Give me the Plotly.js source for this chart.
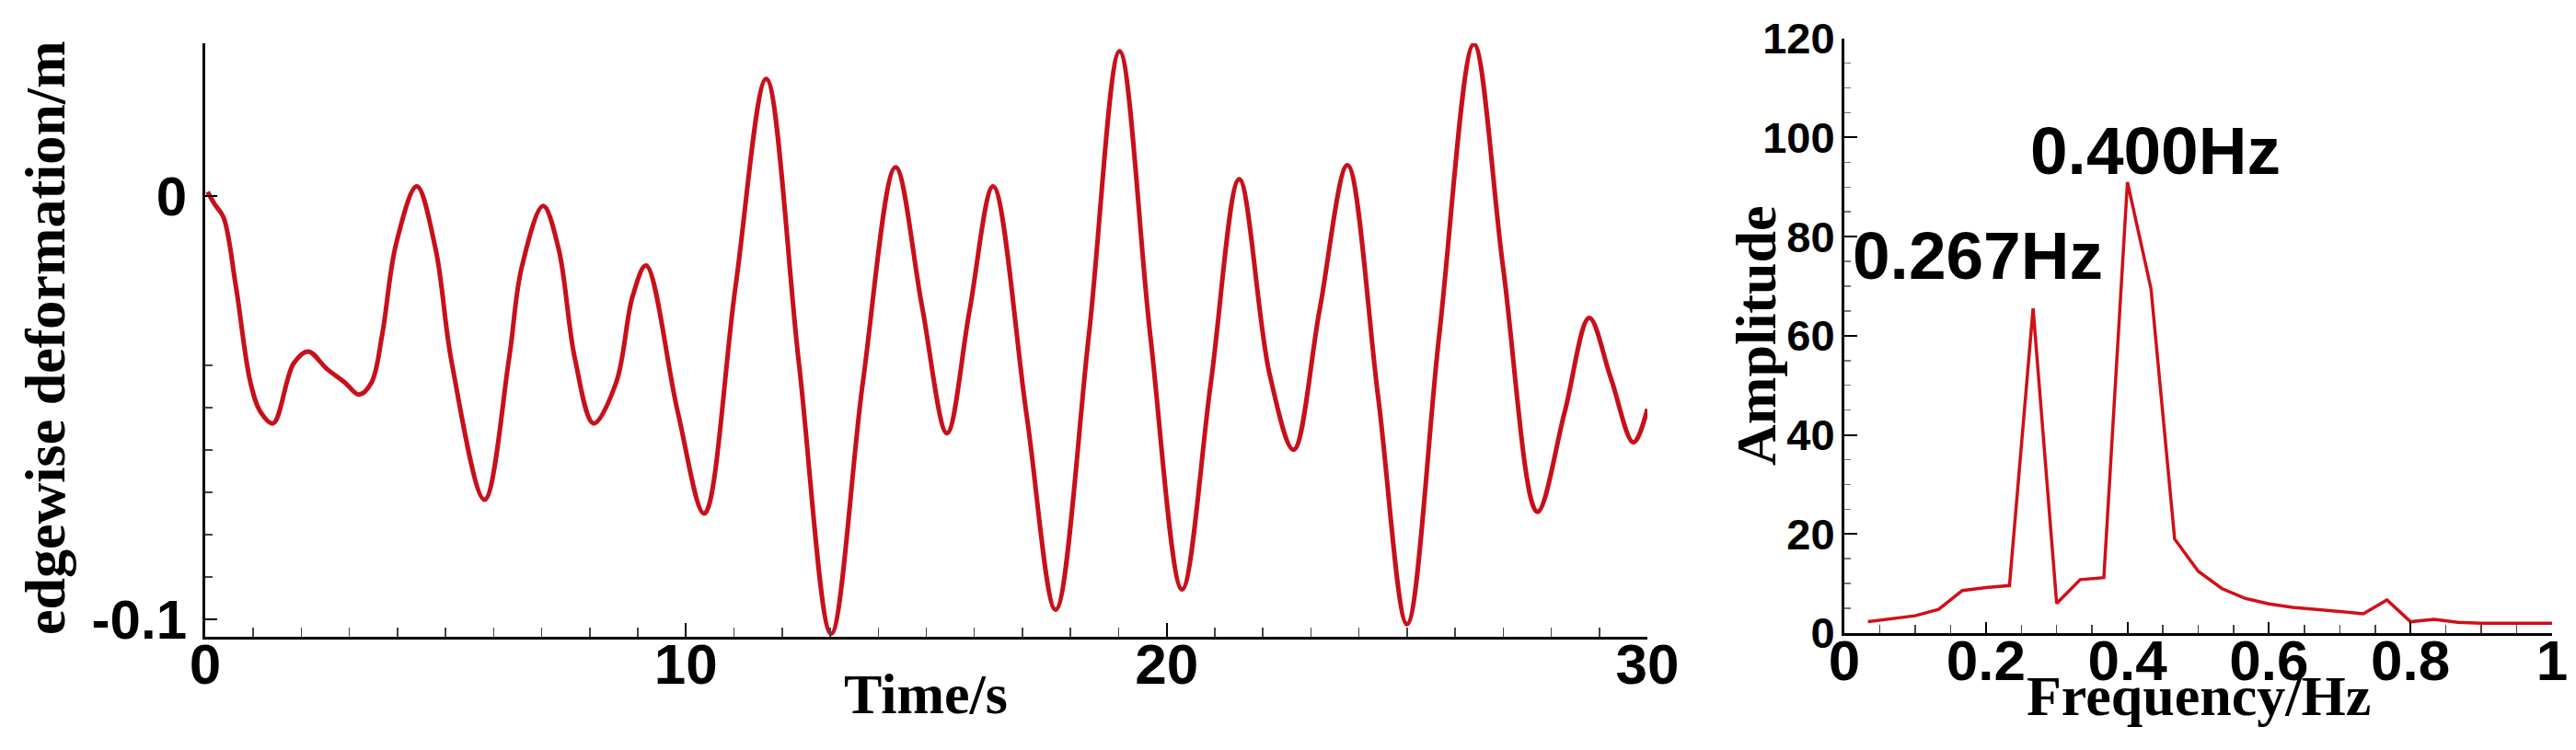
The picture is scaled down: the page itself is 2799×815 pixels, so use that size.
<!DOCTYPE html>
<html>
<head>
<meta charset="utf-8">
<script src="https://cdn.plot.ly/plotly-3.0.1.min.js"></script>
<style>html,body{margin:0;padding:0;background:#fff;}#chart{width:2799px;height:815px;}</style>
</head>
<body>
<div id="chart"></div>
<script>
// ---- Data: edgewise deformation time history ----
const time = [0.05, 0.2, 0.38, 0.64, 0.94, 1.15, 1.41, 1.84, 2.14, 2.52, 2.9, 3.2, 3.46, 3.68, 3.97, 4.4, 4.79, 5.13, 5.81, 6.32, 6.58, 7.03, 7.35, 7.69, 8.08, 8.55, 8.89, 9.17, 9.83, 10.38, 11.03, 11.67, 12.35, 13.02, 13.68, 14.36, 14.91, 15.43, 15.9, 16.39, 17.09, 17.69, 18.38, 19.02, 19.66, 20.32, 20.92, 21.51, 22.14, 22.64, 23.18, 23.76, 24.4, 25.0, 25.67, 26.39, 27.0, 27.71, 28.28, 28.79, 29.24, 29.71, 30.0];
const deformation = [0.001, -0.002, -0.005, -0.0215, -0.044, -0.051, -0.0537, -0.0395, -0.0367, -0.0407, -0.044, -0.0469, -0.044, -0.0328, -0.0113, 0.0023, -0.0124, -0.0395, -0.0717, -0.0384, -0.017, -0.0023, -0.0124, -0.0384, -0.0537, -0.044, -0.0237, -0.0164, -0.051, -0.075, -0.0215, 0.0277, -0.0395, -0.1034, -0.044, 0.0068, -0.026, -0.056, -0.027, 0.0023, -0.052, -0.0977, -0.033, 0.0342, -0.033, -0.0929, -0.044, 0.004, -0.042, -0.0599, -0.027, 0.0073, -0.0475, -0.1011, -0.0328, 0.0359, -0.017, -0.0746, -0.051, -0.0288, -0.043, -0.0582, -0.0503];

// ---- Data: amplitude spectrum ----
const freq = [0.0333, 0.0667, 0.1, 0.1333, 0.1667, 0.2, 0.2333, 0.2667, 0.3, 0.3333, 0.3667, 0.4, 0.4333, 0.4667, 0.5, 0.5333, 0.5667, 0.6, 0.6333, 0.6667, 0.7, 0.7333, 0.7667, 0.8, 0.8333, 0.8667, 0.9, 0.9333, 0.9667, 1.0];
const amplitude = [2.3, 2.9, 3.5, 4.8, 8.6, 9.2, 9.6, 65.5, 6.0, 10.8, 11.2, 91.0, 69.5, 19.0, 12.5, 9.0, 7.0, 5.9, 5.2, 4.8, 4.3, 3.9, 6.7, 2.3, 2.8, 2.2, 2.0, 2.0, 2.0, 2.0];

// ---- Tick values / labels ----
const timeTicks = [0, 10, 20, 30];
const timeTickText = ['0', '10', '20', '30'];
const defTicks = [-0.1, 0];
const defTickText = ['-0.1', '0'];
const defMinorTicks = [-0.09, -0.08, -0.07, -0.06, -0.05, -0.04];
const freqTicks = [0, 0.2, 0.4, 0.6, 0.8, 1];
const freqTickText = ['0', '0.2', '0.4', '0.6', '0.8', '1'];
const ampTicks = [0, 20, 40, 60, 80, 100, 120];
const ampTickText = ['0', '20', '40', '60', '80', '100', '120'];

// ---- Peak labels ----
const peakLabels = ['0.267Hz', '0.400Hz'];
const peakLabelX = [0.188, 0.4395];
const peakLabelY = [76.2, 97.4];

const W = 2799, H = 815;
const px = v => v / W;
const py = v => (H - v) / H;

const sans = 'Liberation Sans, Arial, sans-serif';
const serif = 'Liberation Serif, Times New Roman, serif';

const traces = [
  {x: time, y: deformation, type: 'scatter', mode: 'lines', xaxis: 'x', yaxis: 'y',
   line: {color: '#c8101a', width: 5, shape: 'spline', smoothing: 1}, hoverinfo: 'skip'},
  {x: freq, y: amplitude, type: 'scatter', mode: 'lines', xaxis: 'x2', yaxis: 'y2',
   line: {color: '#d01018', width: 3.5}, hoverinfo: 'skip'}
];

const axBase = {
  showline: true, linecolor: '#000', linewidth: 3, mirror: false,
  showgrid: false, zeroline: false, ticks: 'inside', tickcolor: '#000',
  automargin: false, fixedrange: true
};

const layout = {
  width: W, height: H,
  margin: {l: 0, r: 0, t: 0, b: 0, pad: 0},
  paper_bgcolor: '#fff', plot_bgcolor: '#fff',
  showlegend: false,
  xaxis: Object.assign({}, axBase, {
    domain: [px(223), px(1790)], range: [0, 30], anchor: 'y',
    tickmode: 'array', tickvals: timeTicks, ticktext: timeTickText,
    ticklen: 15, tickwidth: 2, ticklabelstandoff: -26,
    minor: {dtick: 1, tick0: 0, ticks: 'inside', ticklen: 10, tickwidth: 1.5, tickcolor: '#444'},
    tickfont: {family: sans, size: 62, color: '#000', weight: 'bold'}
  }),
  yaxis: Object.assign({}, axBase, {
    domain: [py(692), py(47)], range: [-0.1041, 0.0361], anchor: 'x',
    tickmode: 'array', tickvals: defTicks, ticktext: defTickText,
    ticklen: 13, tickwidth: 2, ticklabelstandoff: 5,
    minor: {tickmode: 'array', tickvals: defMinorTicks, ticks: 'inside', ticklen: 8, tickwidth: 1.5, tickcolor: '#444'},
    tickfont: {family: sans, size: 60, color: '#000', weight: 'bold'}
  }),
  xaxis2: Object.assign({}, axBase, {
    domain: [px(2004), px(2773)], range: [0, 1], anchor: 'y2',
    tickmode: 'array', tickvals: freqTicks, ticktext: freqTickText,
    ticklen: 12, tickwidth: 2, ticklabelstandoff: -26,
    minor: {dtick: 0.05, tick0: 0, ticks: 'inside', ticklen: 9, tickwidth: 1.5, tickcolor: '#444'},
    tickfont: {family: sans, size: 62, color: '#000', weight: 'bold'}
  }),
  yaxis2: Object.assign({}, axBase, {
    domain: [py(688), py(41.7)], range: [0, 120], anchor: 'x2',
    tickmode: 'array', tickvals: ampTicks, ticktext: ampTickText,
    ticklen: 14, tickwidth: 2, ticklabelstandoff: -2,
    minor: {dtick: 5, tick0: 0, ticks: 'inside', ticklen: 7, tickwidth: 1.5, tickcolor: '#777'},
    tickfont: {family: sans, size: 47, color: '#000', weight: 'bold'}
  }),
  annotations: [
    {text: 'Time/s', xref: 'paper', yref: 'paper', x: px(1006), y: py(754), xanchor: 'center', yanchor: 'middle',
     showarrow: false, font: {family: serif, size: 62, color: '#000', weight: 'bold'}},
    {text: 'edgewise deformation/m', xref: 'paper', yref: 'paper', x: px(49), y: py(367), xanchor: 'center', yanchor: 'middle',
     textangle: -90, showarrow: false, font: {family: serif, size: 62, color: '#000', weight: 'bold'}},
    {text: 'Frequency/Hz', xref: 'paper', yref: 'paper', x: px(2389), y: py(756), xanchor: 'center', yanchor: 'middle',
     showarrow: false, font: {family: serif, size: 62, color: '#000', weight: 'bold'}},
    {text: 'Amplitude', xref: 'paper', yref: 'paper', x: px(1908), y: py(365), xanchor: 'center', yanchor: 'middle',
     textangle: -90, showarrow: false, font: {family: serif, size: 62, color: '#000', weight: 'bold'}},
    {text: peakLabels[0], xref: 'x2', yref: 'y2', x: peakLabelX[0], y: peakLabelY[0], xanchor: 'center', yanchor: 'middle',
     showarrow: false, font: {family: sans, size: 73, color: '#000', weight: 'bold'}},
    {text: peakLabels[1], xref: 'x2', yref: 'y2', x: peakLabelX[1], y: peakLabelY[1], xanchor: 'center', yanchor: 'middle',
     showarrow: false, font: {family: sans, size: 73, color: '#000', weight: 'bold'}}
  ]
};

Plotly.newPlot('chart', traces, layout, {staticPlot: true, displayModeBar: false});
</script>
</body>
</html>
